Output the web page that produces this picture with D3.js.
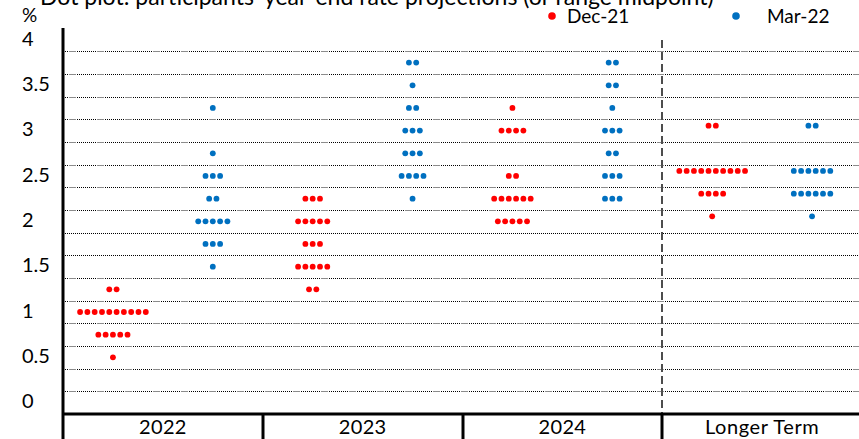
<!DOCTYPE html>
<html>
<head>
<meta charset="utf-8">
<script src="https://cdn.jsdelivr.net/npm/d3@7"></script>
<style>
    body { margin: 0; background: #fff; }
    svg { display: block; font-family: Lato, "Open Sans", sans-serif; }
    .grid-dots { stroke: #000; stroke-width: 1; stroke-dasharray: 1,1; }
    .grid-dash { stroke: #8c8c8c; stroke-width: 1; stroke-dasharray: 7,21; }
</style>
</head>
<body>
<div id="chart"></div>
<script>
    const categories = ["2022", "2023", "2024", "Longer Term"];
    const seriesNames = ["Dec-21", "Mar-22"];
    const seriesColors = ["#ff0000", "#0070c0"];

    // rate levels and how many dots sit on each, one list per category
    const dec21Rates = [
        [1.125, 0.875, 0.625, 0.375],
        [2.125, 1.875, 1.625, 1.375, 1.125],
        [3.125, 2.875, 2.375, 2.125, 1.875],
        [2.93, 2.43, 2.18, 1.93]
    ];
    const dec21Counts = [
        [2, 10, 5, 1],
        [3, 5, 3, 5, 2],
        [1, 4, 2, 6, 5],
        [2, 10, 4, 1]
    ];
    const mar22Rates = [
        [3.125, 2.625, 2.375, 2.125, 1.875, 1.625, 1.375],
        [3.625, 3.375, 3.125, 2.875, 2.625, 2.375, 2.125],
        [3.625, 3.375, 3.125, 2.875, 2.625, 2.375, 2.125],
        [2.93, 2.43, 2.18, 1.93]
    ];
    const mar22Counts = [
        [1, 1, 3, 2, 5, 3, 1],
        [2, 1, 2, 3, 3, 4, 1],
        [2, 2, 1, 3, 2, 3, 3],
        [2, 6, 6, 1]
    ];
    const yTicks = [0, 0.5, 1, 1.5, 2, 2.5, 3, 3.5, 4];
    const gridValues = [0, 0.25, 0.5, 0.75, 1, 1.25, 1.5, 1.75, 2, 2.25, 2.5, 2.75, 3, 3.25, 3.5, 3.75];
    const titleText = "Dot plot: participants' year-end rate projections (or range midpoint)";

    const width = 859, height = 439;
    const axisX = 63, axisY = 414;
    const dotR = 2.9, dotGap = 7.3;

    const svg = d3.select("#chart").append("svg").attr("width", width).attr("height", height);

    const x = d3.scaleBand().domain(categories).range([axisX, 862]);
    const xs = d3.scaleBand().domain(seriesNames).range([0, x.bandwidth()]);
    const y = d3.scaleLinear().domain([-0.25, 4]).range([axisY, 28.6]);

    // title, mostly cut off at the top edge
    svg.append("text").attr("x", 40).attr("y", 5).attr("font-size", 23).attr("fill", "#000").text(titleText);

    // gridlines
    const grid = svg.append("g");
    gridValues.forEach(v => {
        const gy = Math.round(y(v)) + 0.5;
        grid.append("line").attr("class", "grid-dots").attr("x1", axisX).attr("x2", width).attr("y1", gy).attr("y2", gy);
        if (v !== 1.5 && v !== 1.75)
            grid.append("line").attr("class", "grid-dash").attr("x1", axisX + 6).attr("x2", width).attr("y1", gy).attr("y2", gy);
    });

    // dashed separator before longer term
    const sepX = Math.round(x("Longer Term"));
    svg.append("line").attr("x1", sepX).attr("x2", sepX).attr("y1", 40).attr("y2", axisY)
        .attr("stroke", "#4d4d4d").attr("stroke-width", 2).attr("stroke-dasharray", "8,4");

    // y axis labels
    const yAxis = svg.append("g").attr("transform", "translate(" + axisX + ",0)")
        .call(d3.axisLeft(y).tickValues(yTicks).tickSize(0).tickFormat(d3.format("")));
    yAxis.select(".domain").remove();
    yAxis.selectAll("text").attr("x", 22 - axisX).attr("dy", "0.35em")
        .attr("transform", "translate(0,9.5)").attr("text-anchor", "start")
        .attr("font-family", "Lato, sans-serif").attr("font-size", 20).attr("fill", "#000");
    svg.append("text").attr("x", 22).attr("y", 22).attr("font-size", 19).text("%");

    // category axis
    const xAxis = svg.append("g").attr("transform", "translate(0," + axisY + ")")
        .call(d3.axisBottom(x).tickSize(0).tickPadding(6));
    xAxis.select(".domain").remove();
    xAxis.selectAll("text").attr("font-family", "Lato, sans-serif").attr("font-size", 20)
        .attr("letter-spacing", d => d === "Longer Term" ? 0.6 : 0.3).attr("fill", "#000");
    categories.slice(1).forEach(c => {
        const bx = Math.round(x(c));
        svg.append("line").attr("x1", bx).attr("x2", bx).attr("y1", axisY).attr("y2", height)
            .attr("stroke", "#000").attr("stroke-width", 3);
    });
    svg.append("line").attr("x1", axisX).attr("x2", width).attr("y1", axisY).attr("y2", axisY)
        .attr("stroke", "#000").attr("stroke-width", 3);
    svg.append("line").attr("x1", axisX).attr("x2", axisX).attr("y1", 28).attr("y2", height)
        .attr("stroke", "#000").attr("stroke-width", 3);

    // dots
    const seriesRates = [dec21Rates, mar22Rates];
    const seriesCounts = [dec21Counts, mar22Counts];
    const dots = [];
    seriesNames.forEach((s, si) => {
        categories.forEach((c, ci) => {
            seriesRates[si][ci].forEach((r, ri) => {
                const n = seriesCounts[si][ci][ri];
                for (let k = 0; k < n; k++) {
                    dots.push({series: si, cat: c, name: s, rate: r, offset: k - (n - 1) / 2});
                }
            });
        });
    });
    svg.append("g").selectAll("circle").data(dots).enter().append("circle")
        .attr("cx", d => x(d.cat) + xs(d.name) + xs.bandwidth() / 2 + d.offset * dotGap)
        .attr("cy", d => y(d.rate))
        .attr("r", dotR)
        .attr("fill", d => seriesColors[d.series]);

    // legend
    const legendX = [552, 736];
    const legend = svg.append("g").selectAll("g").data(seriesNames).enter().append("g")
        .attr("transform", (d, i) => "translate(" + legendX[i] + ",16)");
    legend.append("circle").attr("r", 3.8).attr("fill", (d, i) => seriesColors[i]);
    legend.append("text").attr("x", (d, i) => i === 0 ? 15 : 31).attr("dy", "0.35em")
        .attr("font-size", 19).text(d => d);
</script>
</body>
</html>
